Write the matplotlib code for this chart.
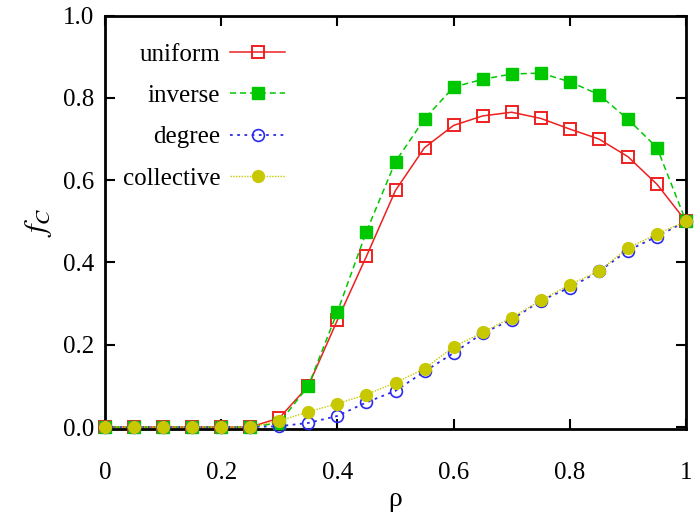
import numpy as np
import matplotlib
matplotlib.use("Agg")
import matplotlib.pyplot as plt

plt.rcParams['font.family'] = ['Liberation Serif', 'DejaVu Serif']
plt.rcParams['mathtext.fontset'] = 'stix'

# data
rho = [0.0, 0.05, 0.1, 0.15, 0.2, 0.25, 0.3, 0.35, 0.4, 0.45, 0.5,
       0.55, 0.6, 0.65, 0.7, 0.75, 0.8, 0.85, 0.9, 0.95, 1.0]
uniform = [0, 0, 0, 0, 0, 0, 0.022, 0.10, 0.26, 0.415, 0.575,
           0.679, 0.733, 0.756, 0.765, 0.75, 0.724, 0.70, 0.657, 0.59, 0.5]
inverse = [0, 0, 0, 0, 0, 0, 0.01, 0.10, 0.28, 0.475, 0.645,
           0.749, 0.826, 0.845, 0.858, 0.86, 0.839, 0.808, 0.748, 0.679, 0.5]
degree = [0, 0, 0, 0, 0, 0, 0.002, 0.01, 0.027, 0.06, 0.088,
          0.135, 0.18, 0.228, 0.261, 0.307, 0.339, 0.378, 0.429, 0.463, 0.5]
collective = [0, 0, 0, 0, 0, 0, 0.015, 0.037, 0.057, 0.079, 0.108,
              0.142, 0.195, 0.23, 0.266, 0.308, 0.346, 0.379, 0.435, 0.469, 0.5]

xticks = [0, 0.2, 0.4, 0.6, 0.8, 1.0]
xticklabels = ['0', '0.2', '0.4', '0.6', '0.8', '1']
yticks = [0.0, 0.2, 0.4, 0.6, 0.8, 1.0]

fig = plt.figure(figsize=(7, 5.17), dpi=100)
ax = fig.add_axes([0.15, 0.17, 0.83, 0.80])

ax.plot(rho, uniform, color='#ee2020', ls='-', lw=1.1, marker='s', ms=9,
        mfc='none', mec='#ee2020', mew=1.4, label='uniform', clip_on=False, zorder=3)
ax.plot(rho, inverse, color='#00c800', ls=(0, (4, 2.5)), lw=1.1, marker='s', ms=9,
        mfc='#00c800', mec='#00c800', label='inverse', clip_on=False, zorder=3)
ax.plot(rho, degree, color='#2a2aee', ls=(0, (1.5, 2.5)), lw=1.3, marker='o', ms=8.5,
        mfc='none', mec='#2a2aee', mew=1.2, label='degree', clip_on=False, zorder=3)
ax.plot(rho, collective, color='#c8c800', ls=(0, (1, 1)), lw=1.0, marker='o', ms=8.5,
        mfc='#c8c800', mec='#c8c800', label='collective', clip_on=False, zorder=3)

ax.set_xlim(0, 1)
ax.set_ylim(-0.005, 1.0)
ax.set_xticks(xticks)
ax.set_xticklabels(xticklabels)
ax.set_yticks(yticks)
ax.set_yticklabels(['%.1f' % v for v in yticks])
ax.tick_params(direction='in', top=True, right=True, length=7, width=1.5,
               labelsize=18)
ax.tick_params(axis='x', pad=24)
ax.tick_params(axis='y', pad=8)
for s in ax.spines.values():
    s.set_linewidth(2)

ax.set_xlabel('ρ', fontsize=20, labelpad=2)
ax.set_ylabel(r'$f_C$', fontsize=22, labelpad=6)

ax.legend(loc='upper left', bbox_to_anchor=(0.0, 0.975), markerfirst=False,
          frameon=False, fontsize=18, handlelength=2.2, handletextpad=0.4,
          labelspacing=0.75, borderaxespad=0.3)

fig.savefig('out.png', dpi=100)
